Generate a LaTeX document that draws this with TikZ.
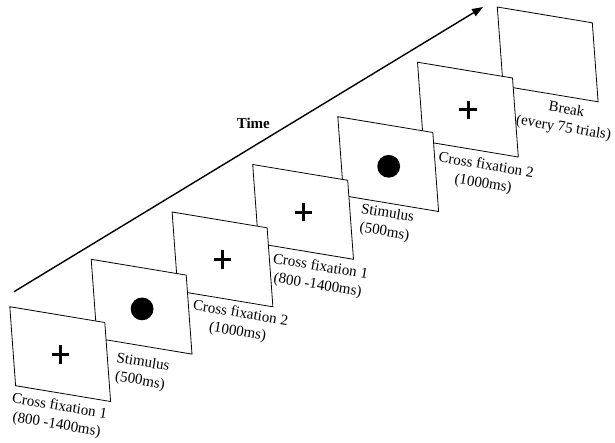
\documentclass[tikz,border=0pt]{standalone}
\usepackage{fontspec}
\usepackage{graphicx}
\setmainfont{Liberation Serif}
\usetikzlibrary{arrows.meta,calc}
\newcommand{\tiltlbl}[1]{\rotatebox{-9.3}{\begin{tabular}{@{}c@{}}#1\end{tabular}}}
\begin{document}
\begin{tikzpicture}[x=1pt,y=1pt,
  panel/.style={draw=black,line width=0.8pt,fill=white},
  crossline/.style={line width=2.8pt,line cap=butt},
  dotmark/.style={fill=black},
  lbl/.style={font=\fontsize{15}{18.5}\selectfont,inner sep=0pt},
  timearrow/.style={line width=1.4pt,-{Triangle[length=11pt,width=8pt]}},
  timelbl/.style={font=\fontsize{15}{18}\selectfont\bfseries,inner sep=0pt}
]
\useasboundingbox (0,-442) rectangle (615,0);
% panel top-left corners
\coordinate (p1) at (9.8,-306.7);
\coordinate (p2) at (91.2,-259.3);
\coordinate (p3) at (172.1,-212);
\coordinate (p4) at (252.7,-164.5);
\coordinate (p5) at (337.8,-116.7);
\coordinate (p6) at (417.5,-62.2);
\coordinate (p7) at (497.3,-7.0);
% panels, back to front
\foreach \i in {7,6,5,4,3,2,1}{
  \draw[panel] (p\i) -- ++(95,-15.8) -- ++(5.8,-79) -- ++(-95,15.8) -- cycle;
  \coordinate (c\i) at ($(p\i)+(50.6,-47.6)$);
}
% crosses
\foreach \i in {1,3,4,6}{
  \draw[crossline] ($(c\i)+(-8.7,0)$) -- ($(c\i)+(8.7,0)$);
  \draw[crossline] ($(c\i)+(0,-9.3)$) -- ($(c\i)+(0,9.3)$);
}
% stimulus dots
\foreach \i in {2,5}{
  \fill[dotmark] ($(c\i)+(0.3,-2)$) circle [radius=11.4pt];
}
% labels
\node[lbl] (l1) at (58,-416) {\tiltlbl{Cross fixation 1\\(800 -1400ms)}};
\node[lbl] (l2) at (141.5,-372) {\tiltlbl{Stimulus\\(500ms)}};
\node[lbl] (l3) at (239,-323) {\tiltlbl{Cross fixation 2\\(1000ms)}};
\node[lbl] (l4) at (319,-276.5) {\tiltlbl{Cross fixation 1\\(800 -1400ms)}};
\node[lbl] (l5) at (386,-223) {\tiltlbl{Stimulus\\(500ms)}};
\node[lbl] (l6) at (484.5,-175) {\tiltlbl{Cross fixation 2\\(1000ms)}};
\node[lbl] (l7) at (565,-119) {\tiltlbl{Break\\(every 75 trials)}};
% time arrow
\coordinate (tstart) at (14,-291.7);
\coordinate (tend) at (483,-7);
\draw[timearrow] (tstart) -- (tend);
\node[timelbl] (time) at (253.3,-123.8) {Time};
\end{tikzpicture}
\end{document}
